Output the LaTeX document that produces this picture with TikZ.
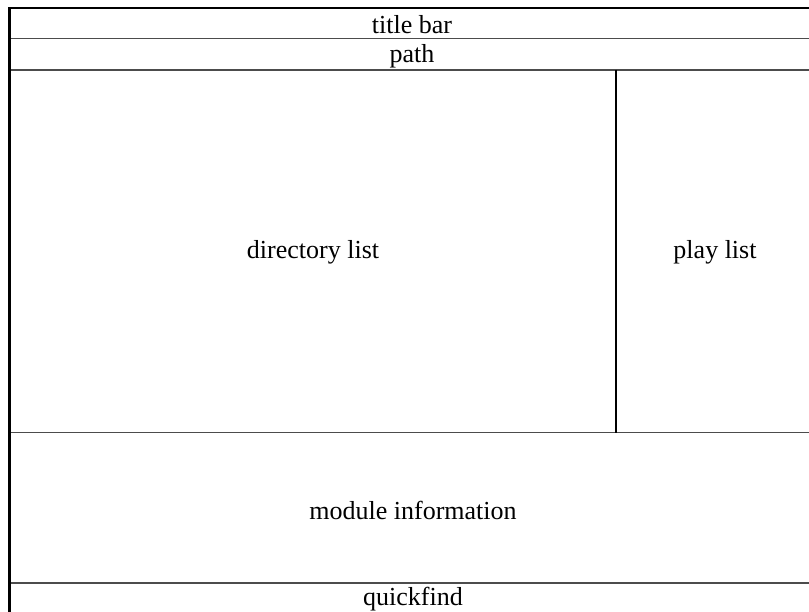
\documentclass[tikz,border=0pt]{standalone}
\usepackage{fontspec}
\setmainfont{Liberation Serif}
\begin{document}
\begin{tikzpicture}[x=1pt,y=-1pt,
  lbl/.style={font=\fontsize{26}{30}\selectfont, inner sep=0pt, anchor=center},
  sep/.style={draw=black!70, line width=1.4pt},
  frame/.style={draw=black, line width=2.2pt}]
\useasboundingbox (0,0) rectangle (809,612);
\clip (0,0) rectangle (809,612);
\fill[white] (0,0) rectangle (809,612);
% separators
\draw[sep] (9.5,38.5) -- (816,38.5);
\draw[sep] (9.5,70) -- (816,70);
\draw[sep] (9.5,432.5) -- (816,432.5);
\draw[sep] (9.5,583) -- (816,583);
\draw[draw=black, line width=1.1pt] (616,70) -- (616,432.5);
% outer frame
\draw[frame] (9.5,7.8) rectangle (816,620);
% labels
\node[lbl] (title) at (412,25) {title bar};
\node[lbl] (path) at (412,56) {path};
\node[lbl] (dir) at (313,252.5) {directory list};
\node[lbl] (play) at (715,252.5) {play list};
\node[lbl] (mod) at (413,510.5) {module information};
\node[lbl] (quick) at (413,599) {quickfind};
\end{tikzpicture}
\end{document}
